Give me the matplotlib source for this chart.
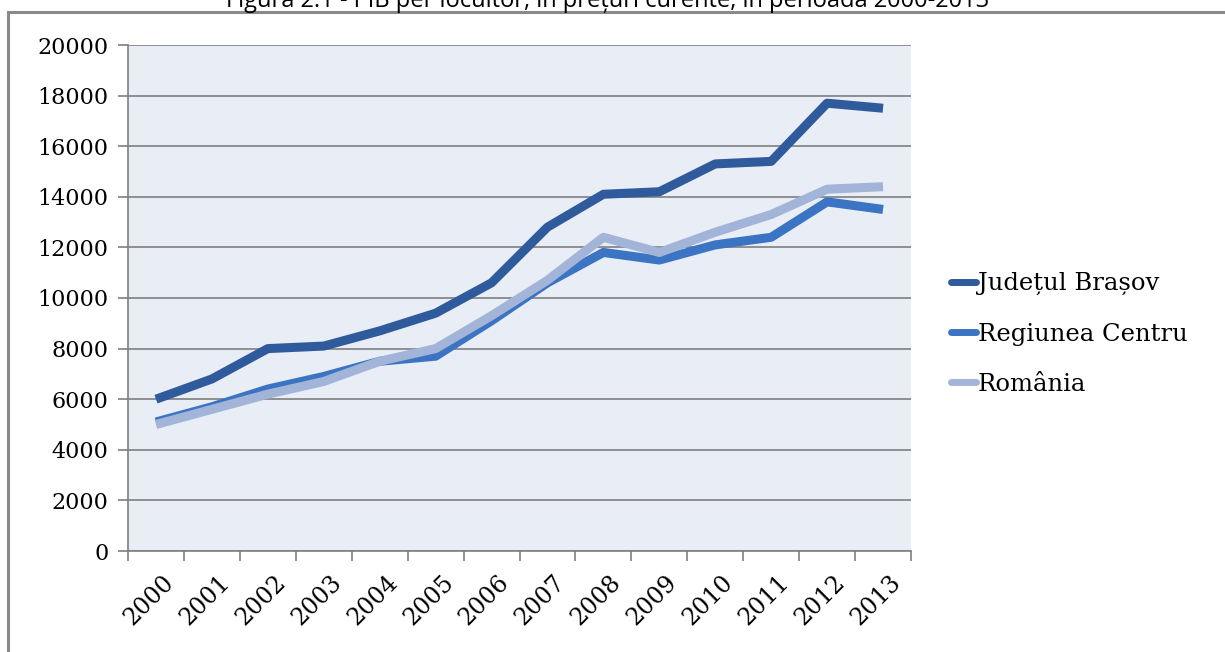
import numpy as np
import matplotlib.pyplot as plt
import matplotlib.transforms as mtransforms
from matplotlib.lines import Line2D

# data
years = ["2000", "2001", "2002", "2003", "2004", "2005", "2006",
         "2007", "2008", "2009", "2010", "2011", "2012", "2013"]
brasov = [6000, 6800, 8000, 8100, 8700, 9400, 10600,
          12800, 14100, 14200, 15300, 15400, 17700, 17500]
centru = [5100, 5700, 6400, 6900, 7500, 7700, 9100,
          10600, 11800, 11500, 12100, 12400, 13800, 13500]
romania = [5000, 5600, 6200, 6700, 7500, 8000, 9300,
           10700, 12400, 11800, 12600, 13300, 14300, 14400]
series_names = ["Județul Brașov", "Regiunea Centru", "România"]
colors = ["#2f5b9d", "#3b74c2", "#a3b4d9"]

W, H = 1225, 652
fig = plt.figure(figsize=(W / 100, H / 100), dpi=100)
fig.patch.set_facecolor("white")

# caption, cut off at the top edge like in the scan
fig.text(608 / W, 1 - 7 / H,
         "Figura 2.1 - PIB per locuitor, în prețuri curente, în perioada 2000-2013",
         ha="center", va="baseline", fontsize=17, family="Open Sans", color="black")

# outer frame (left and top)
fig.add_artist(Line2D([8 / W, 8 / W], [0, 1 - 12 / H], transform=fig.transFigure,
                      color="#8a8a8a", lw=2.2))
fig.add_artist(Line2D([8 / W, 1], [1 - 12 / H, 1 - 12 / H], transform=fig.transFigure,
                      color="#8a8a8a", lw=2.2))

ax = fig.add_axes([128 / W, 101 / H, (911 - 128) / W, (551 - 45) / H])
ax.set_facecolor("#e9edf5")

x = np.arange(len(years))
for vals, name, c in zip([brasov, centru, romania], series_names, colors):
    ax.plot(x, vals, color=c, lw=6.5, solid_capstyle="butt", label=name, zorder=3)

ax.set_xlim(-0.5, len(years) - 0.5)
ax.set_ylim(0, 20000)
ax.set_yticks(range(0, 20001, 2000))
ax.yaxis.grid(True, color="#7f7f7f", lw=1.2)
ax.set_axisbelow(True)

ax.set_xticks(x)
ax.set_xticklabels(years, rotation=45, ha="center", va="top")
ax.set_xticks(np.arange(-0.5, len(years)), minor=True)
ax.tick_params(axis="x", which="major", length=0, pad=14)
ax.tick_params(axis="x", which="minor", length=7, color="#7f7f7f", width=1.2, direction="out")
ax.tick_params(axis="y", length=7, color="#7f7f7f", width=1.2, pad=7)
offset = mtransforms.ScaledTranslation(-7 / 100, 0, fig.dpi_scale_trans)
for lab in ax.get_xticklabels():
    lab.set_transform(lab.get_transform() + offset)

for lab in ax.get_yticklabels():
    lab.set_family("DejaVu Serif")
    lab.set_fontsize(16)
for lab in ax.get_xticklabels():
    lab.set_family("DejaVu Serif")
    lab.set_fontsize(17)

for s in ["top", "right"]:
    ax.spines[s].set_visible(False)
for s in ["left", "bottom"]:
    ax.spines[s].set_color("#7f7f7f")
    ax.spines[s].set_linewidth(1.2)

leg = ax.legend(loc="center left", bbox_to_anchor=(929 / W, 1 - 334 / H),
                bbox_transform=fig.transFigure, frameon=False,
                prop={"family": "DejaVu Serif", "size": 17.5},
                handlelength=1.05, handletextpad=0.05, labelspacing=1.12)
for h in leg.get_lines():
    h.set_linewidth(5)
    h.set_solid_capstyle("round")

fig.savefig("out.png", dpi=100)
